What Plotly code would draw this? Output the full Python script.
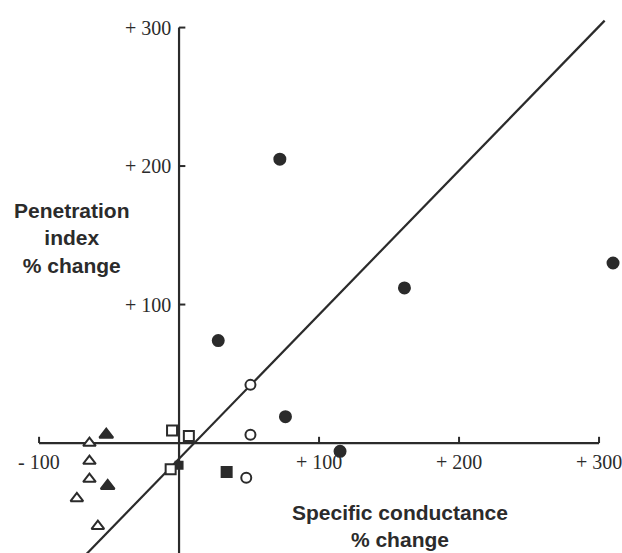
import plotly.graph_objects as go

# ---- data (percent change) ----
filled_circle_x = [72, 28, 161, 310, 76, 115]
filled_circle_y = [205, 74, 112, 130, 19, -6]

open_circle_x = [51, 51, 48]
open_circle_y = [42, 6, -25]

filled_square_x = [34, 0]
filled_square_y = [-21, -16]

open_square_x = [-5, 7, -6]
open_square_y = [9, 5, -19]

filled_triangle_x = [-52, -51]
filled_triangle_y = [6, -31]

open_triangle_x = [-64, -64, -64, -73, -58]
open_triangle_y = [0, -13, -26, -40, -60]

line_x = [-66, 304]
line_y = [-80, 305]

x_ticks = [-100, 100, 200, 300]
x_tick_labels = ["- 100", "+ 100", "+ 200", "+ 300"]
y_ticks = [100, 200, 300]
y_tick_labels = ["+ 100", "+ 200", "+ 300"]

X_RANGE = [-127.9, 316.4]
Y_RANGE = [-79.4, 319.9]

INK = "#2b2b2b"

fig = go.Figure()

# regression line
fig.add_trace(go.Scatter(x=line_x, y=line_y, mode="lines",
                         line=dict(color=INK, width=2.2), hoverinfo="skip"))

def add_markers(xs, ys, symbol, filled, size=11, sizes=None):
    fig.add_trace(go.Scatter(
        x=xs, y=ys, mode="markers",
        marker=dict(symbol=symbol, size=sizes if sizes else size, opacity=1,
                    color=INK if filled else "white",
                    line=dict(color=INK, width=2)),
        hoverinfo="skip", cliponaxis=False))

add_markers(filled_square_x, filled_square_y, "square", True, sizes=[10, 7])
add_markers(open_square_x, open_square_y, "square", False, 10)
add_markers(filled_circle_x, filled_circle_y, "circle", True, 11)
add_markers(open_circle_x, open_circle_y, "circle", False, 10)
add_markers(filled_triangle_x, filled_triangle_y, "triangle-up", True, 12)
add_markers(open_triangle_x, open_triangle_y, "triangle-up", False, 11)

shapes = []
# x axis spanning the labelled range
shapes.append(dict(type="line", xref="x", yref="y", x0=min(x_ticks), x1=max(x_ticks),
                   y0=0, y1=0, line=dict(color=INK, width=2.2), layer="below"))
# y axis from top tick to the bottom of the frame
shapes.append(dict(type="line", xref="x", yref="y", x0=0, x1=0,
                   y0=Y_RANGE[0], y1=max(y_ticks), line=dict(color=INK, width=2.2), layer="below"))
# tick marks
for t in x_ticks:
    shapes.append(dict(type="line", xref="x", yref="y", x0=t, x1=t, y0=0, y1=4.5,
                       line=dict(color=INK, width=2), layer="below"))
for t in y_ticks:
    shapes.append(dict(type="line", xref="x", yref="y", x0=0, x1=4.5, y0=t, y1=t,
                       line=dict(color=INK, width=2), layer="below"))

annotations = []
tick_font = dict(family="Liberation Serif", size=20, color=INK)
for t, lab in zip(x_ticks, x_tick_labels):
    annotations.append(dict(x=t, y=0, xref="x", yref="y", text=lab, showarrow=False,
                            xanchor="center", yanchor="top", yshift=-6, font=tick_font))
for t, lab in zip(y_ticks, y_tick_labels):
    annotations.append(dict(x=0, y=t, xref="x", yref="y", text=lab, showarrow=False,
                            xanchor="right", yanchor="middle", xshift=-6, font=tick_font))

title_font = dict(family="Liberation Sans", size=21, color=INK)
annotations.append(dict(x=72, y=238, xref="paper", yref="paper", text="<b>Penetration<br>index<br>% change</b>",
                        showarrow=False, xanchor="center", yanchor="middle", font=title_font, align="center"))
annotations.append(dict(x=400, y=526, xref="paper", yref="paper", text="<b>Specific conductance<br>% change</b>",
                        showarrow=False, xanchor="center", yanchor="middle", font=title_font, align="center"))

# convert pixel positions for titles into paper coordinates
for a in annotations:
    if a["xref"] == "paper":
        a["x"] = a["x"] / 622
        a["y"] = 1 - a["y"] / 553

fig.update_layout(
    width=622, height=553,
    margin=dict(l=0, r=0, t=0, b=0),
    paper_bgcolor="white", plot_bgcolor="white",
    showlegend=False,
    xaxis=dict(range=X_RANGE, visible=False, fixedrange=True),
    yaxis=dict(range=Y_RANGE, visible=False, fixedrange=True),
    shapes=shapes, annotations=annotations,
)

fig.write_html("out.html", config={"displayModeBar": False},
               post_script="document.body.style.margin='0';document.body.style.padding='0';document.body.style.overflow='hidden';")
